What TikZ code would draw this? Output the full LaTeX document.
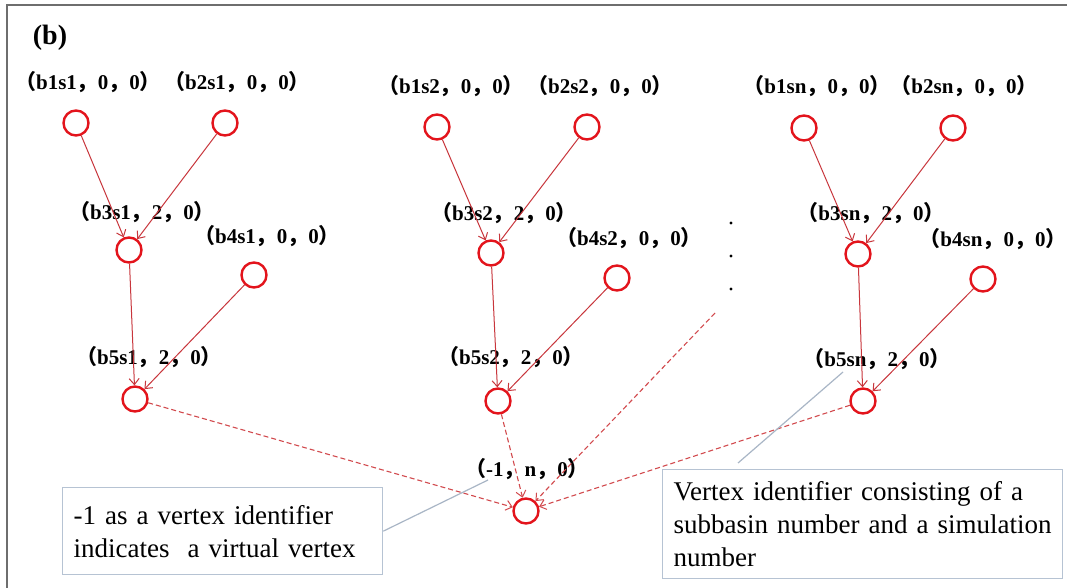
\documentclass[tikz,border=0pt]{standalone}
\usepackage{fontspec}
\setmainfont{Liberation Serif}
\newfontfamily\cjkfont{Noto Sans CJK SC}
\usetikzlibrary{arrows.meta}
\definecolor{nodered}{HTML}{E3141C}
\definecolor{edgered}{HTML}{C8363C}
\definecolor{dashred}{HTML}{D24A4E}
\definecolor{boxline}{HTML}{B6C3D3}
\definecolor{calloutline}{HTML}{A9B6C6}
\definecolor{framegray}{HTML}{6E6E6E}
\newcommand{\vlab}[3]{{\cjkfont （}#1{\cjkfont ，}#2{\cjkfont ，}#3{\cjkfont ）}}
\begin{document}
\begin{tikzpicture}[x=1pt,y=-1pt,
  vtx/.style={circle,draw=nodered,line width=2.4pt,minimum size=25pt,inner sep=0pt},
  lab/.style={font=\bfseries\fontsize{21}{23}\selectfont,inner sep=0pt},
  edge/.style={draw=edgered,line width=1pt,-{Straight Barb[length=6pt,width=10pt,line width=1pt]}},
  dedge/.style={draw=dashred,line width=1.1pt,dash pattern=on 5pt off 3pt,-{Straight Barb[length=6pt,width=10pt,line width=1pt]}},
  callbox/.style={draw=boxline,line width=1.3pt,fill=white,anchor=north west,align=left,
    inner xsep=11pt,inner ysep=0pt,font=\fontsize{27}{33}\selectfont},
  callout/.style={draw=calloutline,line width=1.2pt},
  dotmark/.style={circle,fill=black,inner sep=0pt,minimum size=3.4pt}]
\useasboundingbox (0,0) rectangle (1067,588);
\fill[white] (-10,-10) rectangle (1080,600);
\draw[framegray,line width=2pt] (7,595) -- (7,5) -- (1080,5);
\node[font=\bfseries\fontsize{28}{30}\selectfont,inner sep=0pt] (title) at (50,38) {(b)};

% cluster 1
\node[vtx] (a1) at (76,123) {};
\node[vtx] (a2) at (225,123) {};
\node[vtx] (a3) at (129,250) {};
\node[vtx] (a4) at (254,275) {};
\node[vtx] (a5) at (135,399) {};
\node[lab] (la1) at (88,82) {\vlab{b1s1}{0}{0}};
\node[lab] (la2) at (237,82) {\vlab{b2s1}{0}{0}};
\node[lab] (la3) at (142,212) {\vlab{b3s1}{2}{0}};
\node[lab] (la4) at (267,236) {\vlab{b4s1}{0}{0}};
\node[lab] (la5) at (149,357) {\vlab{b5s1}{2}{0}};

% cluster 2
\node[vtx] (b1) at (437,127) {};
\node[vtx] (b2) at (587,127) {};
\node[vtx] (b3) at (491,253) {};
\node[vtx] (b4) at (617,278) {};
\node[vtx] (b5) at (498,401) {};
\node[lab] (lb1) at (451,86) {\vlab{b1s2}{0}{0}};
\node[lab] (lb2) at (600,86) {\vlab{b2s2}{0}{0}};
\node[lab] (lb3) at (504,213) {\vlab{b3s2}{2}{0}};
\node[lab] (lb4) at (629,238) {\vlab{b4s2}{0}{0}};
\node[lab] (lb5) at (511,357) {\vlab{b5s2}{2}{0}};

% cluster n
\node[vtx] (c1) at (804,128) {};
\node[vtx] (c2) at (953,128) {};
\node[vtx] (c3) at (858,254) {};
\node[vtx] (c4) at (983,279) {};
\node[vtx] (c5) at (863,401) {};
\node[lab] (lc1) at (817,86) {\vlab{b1sn}{0}{0}};
\node[lab] (lc2) at (964,86) {\vlab{b2sn}{0}{0}};
\node[lab] (lc3) at (871,213) {\vlab{b3sn}{2}{0}};
\node[lab] (lc4) at (993,239) {\vlab{b4sn}{0}{0}};
\node[lab] (lc5) at (877,359) {\vlab{b5sn}{2}{0}};

% dots
\node[dotmark] (d1) at (731,223) {};
\node[dotmark] (d2) at (731,256) {};
\node[dotmark] (d3) at (731,289) {};

% virtual vertex
\node[vtx] (v) at (526,511) {};
\node[lab] (lv) at (527,469) {\vlab{-1}{n}{0}};

% solid edges
\foreach \p in {a,b,c}{
  \draw[edge] (\p1) -- (\p3);
  \draw[edge] (\p2) -- (\p3);
  \draw[edge] (\p3) -- (\p5);
  \draw[edge] (\p4) -- (\p5);
}

% dashed edges
\coordinate (free) at (715,313);
\draw[dedge] (a5) -- (v);
\draw[dedge] (b5) -- (v);
\draw[dedge] (c5) -- (v);
\draw[dedge] (free) -- (v);

% callouts
\coordinate (p1) at (488,480);
\coordinate (p2a) at (738,463);
\coordinate (p2b) at (843,372);
\draw[callout] (p2a) -- (p2b);
\node[callbox,minimum height=87pt,text width=298pt] (box1) at (62,487)
  {-1 as a vertex identifier\\indicates\ \ a virtual vertex};
\draw[callout] (box1.east) -- (p1);
\node[callbox,minimum height=109pt,text width=378pt] (box2) at (662,469)
  {Vertex identifier consisting of a\\subbasin number and a simulation\\number};
\end{tikzpicture}
\end{document}
